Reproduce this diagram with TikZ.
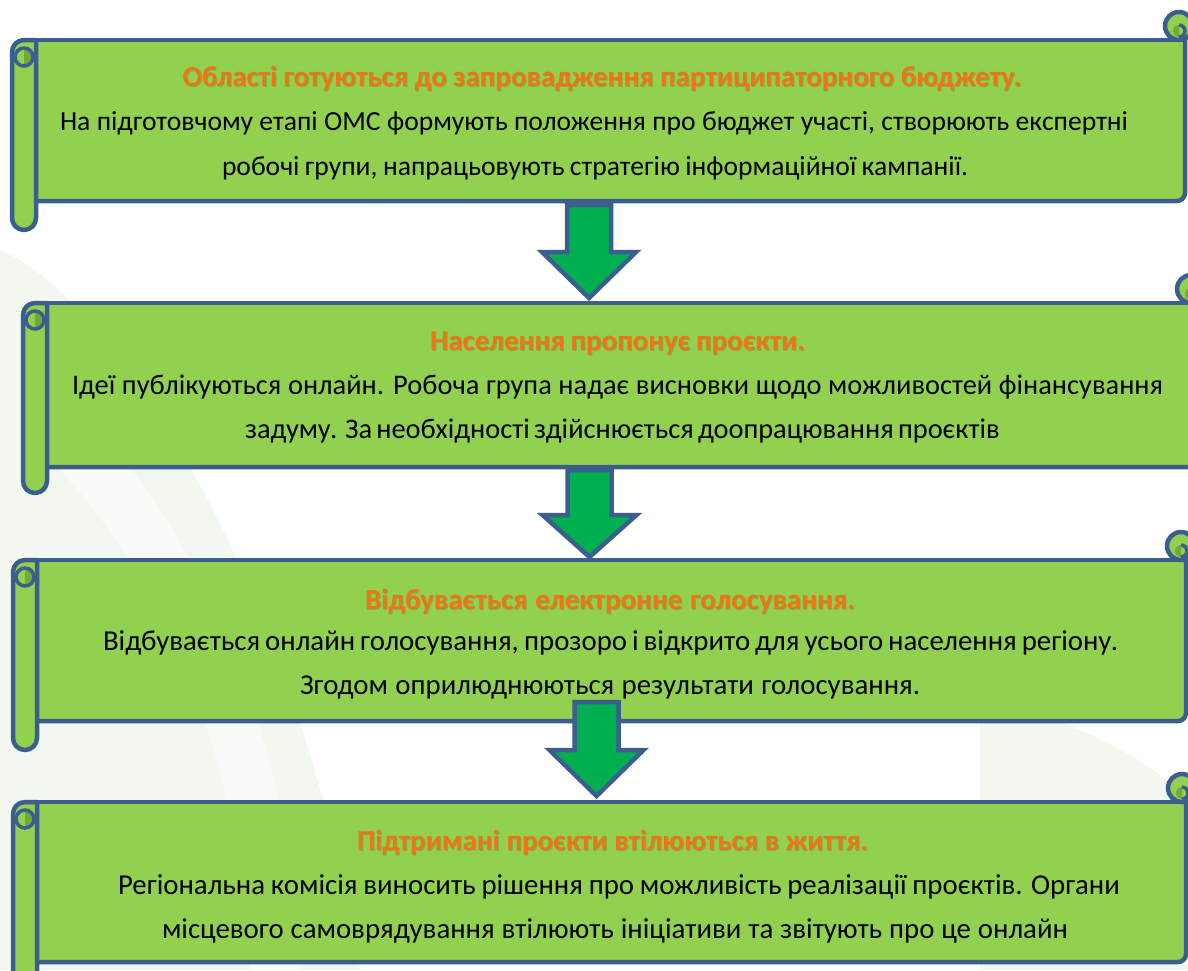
\documentclass[tikz,border=0pt]{standalone}
\usepackage{fontspec}
\setmainfont{Carlito}
\usetikzlibrary{calc}
\definecolor{scrollgreen}{HTML}{92D050}
\definecolor{scrollblue}{HTML}{3B5E8E}
\definecolor{curldark}{HTML}{74A83C}
\definecolor{arrowgreen}{HTML}{00B050}
\definecolor{titleorange}{HTML}{EE7415}
\definecolor{bgtint}{HTML}{E4EFDC}
\tikzset{
  scrollfill/.style={fill=scrollgreen},
  scrollline/.style={draw=scrollblue, line width=4.5pt, line join=round, line cap=round},
  loopline/.style={draw=scrollblue, line width=3.5pt},
  blockarrow/.style={fill=arrowgreen, draw=scrollblue, line width=4.5pt, line join=miter},
  titletext/.style={font=\fontsize{29}{34}\selectfont\bfseries, text=titleorange, anchor=base, inner sep=0pt},
  titleshadow/.style={font=\fontsize{29}{34}\selectfont\bfseries, text=black, opacity=0.14, anchor=base, inner sep=0pt},
  bodytext/.style={font=\fontsize{#1}{34}\selectfont, text=black, anchor=base, inner sep=0pt},
  bodytext/.default=28,
}
\newcommand{\fitline}[2]{\makebox[#1pt][s]{#2}}
% #1 left x, #2 top line y, #3 right edge x, #4 bottom line y, #5 roll bottom y, #6 curl centre x
\newcommand{\myscroll}[6]{%
  \fill[scrollfill] ({#1+12},{#2}) -- ({#6},{#2}) -- ({#6},{#2-14}) -- ({#3},{#2-14}) -- ({#3},{#4-8}) arc[start angle=0,end angle=90,radius=8] -- ({#1+12},{#4}) -- cycle;
  \draw[scrollline] ({#1+12},{#2}) -- ({#6},{#2});
  \draw[scrollline] ({#3},{#2-14}) -- ({#3},{#4-8}) arc[start angle=0,end angle=90,radius=8] -- ({#1+24},{#4});
  % right curl
  \filldraw[scrollfill, scrollline] ({#6},{#2-14}) circle[radius=14];
  \fill[curldark] ({#6},{#2-15}) arc[start angle=270,end angle=90,radius=6] -- cycle;
  \draw[loopline] ({#6},{#2-15}) arc[start angle=270,end angle=450,radius=6];
  % left roll
  \filldraw[scrollfill, scrollline] ({#1+24},{#2}) -- ({#1+24},{#5-12}) arc[start angle=0,end angle=180,radius=12] -- ({#1},{#2+12}) arc[start angle=180,end angle=270,radius=12] -- cycle;
  \fill[curldark] ({#1+12},{#2+8}) arc[start angle=270,end angle=450,radius=9] -- cycle;
  \draw[loopline] ({#1+12},{#2+17}) circle[radius=9];
}
\begin{document}
\begin{tikzpicture}[x=1pt,y=-1pt]
\useasboundingbox (0,0) rectangle (1188,970);
\fill[white] (0,0) rectangle (1188,970);
% faint background swirl
\begin{scope}
  \clip (0,0) rectangle (1188,970);
  \fill[bgtint, opacity=0.45] (0,250) .. controls (120,300) and (300,600) .. (360,970) -- (0,970) -- cycle;
  \fill[white, opacity=0.5] (90,420) .. controls (220,560) and (290,760) .. (300,970) -- (250,970) .. controls (240,780) and (180,600) .. (60,470) -- cycle;
  \fill[bgtint, opacity=0.45] (980,700) .. controls (1080,720) and (1150,760) .. (1188,800) -- (1188,970) -- (980,970) -- cycle;
\end{scope}

% ---- box 1
\myscroll{12}{40}{1185}{201}{230}{1179}
\node[titleshadow] (t1s) at (603,87.5) {\fitline{839}{Області готуються до запровадження партиципаторного бюджету.}};
\node[titletext] (t1) at (602,86) {\fitline{839}{Області готуються до запровадження партиципаторного бюджету.}};
\node[bodytext=27.6] (b1a) at (594,130) {\fitline{1068}{На підготовчому етапі ОМС формують положення про бюджет участі, створюють експертні}};
\node[bodytext=27.6] (b1b) at (595,175) {\fitline{746}{робочі групи, напрацьовують стратегію інформаційної кампанії.}};

% ---- arrow 1
\coordinate (a1s) at (589,205);
\coordinate (a1t) at (589,298);
\draw[blockarrow] ($(a1s)+(-22,0)$) -- ($(a1s)+(22,0)$) -- ($(a1s)+(22,47)$) -- ($(a1s)+(47,47)$) -- (a1t) -- ($(a1s)+(-47,47)$) -- ($(a1s)+(-22,47)$) -- cycle;

% ---- box 2
\myscroll{23}{303}{1196}{467}{493}{1191}
\node[titleshadow] (t2s) at (618.5,351.5) {\fitline{375}{Населення пропонує проєкти.}};
\node[titletext] (t2) at (617.5,350) {\fitline{375}{Населення пропонує проєкти.}};
\node[bodytext=28.4] (b2a) at (617.5,394) {\fitline{1091}{Ідеї публікуються онлайн. Робоча група надає висновки щодо можливостей фінансування}};
\node[bodytext=28.4] (b2b) at (620,438) {\fitline{750}{задуму. За необхідності здійснюється доопрацювання проєктів}};

% ---- arrow 2
\coordinate (a2s) at (589.5,470);
\coordinate (a2t) at (589.5,557);
\draw[blockarrow] ($(a2s)+(-22,0)$) -- ($(a2s)+(22,0)$) -- ($(a2s)+(22,45)$) -- ($(a2s)+(47,45)$) -- (a2t) -- ($(a2s)+(-47,45)$) -- ($(a2s)+(-22,45)$) -- cycle;

% ---- box 3
\myscroll{13}{560}{1186}{721}{750}{1181}
\node[titleshadow] (t3s) at (611,610.5) {\fitline{490}{Відбувається електронне голосування.}};
\node[titletext] (t3) at (610,609) {\fitline{490}{Відбувається електронне голосування.}};
\node[bodytext=28.8] (b3a) at (610.5,650) {\fitline{1015}{Відбувається онлайн голосування, прозоро і відкрито для усього населення регіону.}};
\node[bodytext=28.8] (b3b) at (610,694) {\fitline{620}{Згодом оприлюднюються результати голосування.}};

% ---- arrow 3
\coordinate (a3s) at (596.5,702);
\coordinate (a3t) at (596.5,796);
\draw[blockarrow] ($(a3s)+(-22,0)$) -- ($(a3s)+(22,0)$) -- ($(a3s)+(22,48)$) -- ($(a3s)+(47,48)$) -- (a3t) -- ($(a3s)+(-47,48)$) -- ($(a3s)+(-22,48)$) -- cycle;

% ---- box 4
\myscroll{13}{802}{1186}{962}{991}{1182}
\node[titleshadow] (t4s) at (613.5,851.5) {\fitline{511}{Підтримані проєкти втілюються в життя.}};
\node[titletext] (t4) at (612.5,850) {\fitline{511}{Підтримані проєкти втілюються в життя.}};
\node[bodytext=28.8] (b4a) at (619,894) {\fitline{1002}{Регіональна комісія виносить рішення про можливість реалізації проєктів. Органи}};
\node[bodytext=28.8] (b4b) at (615,938) {\fitline{906}{місцевого самоврядування втілюють ініціативи та звітують про це онлайн}};
\end{tikzpicture}
\end{document}
